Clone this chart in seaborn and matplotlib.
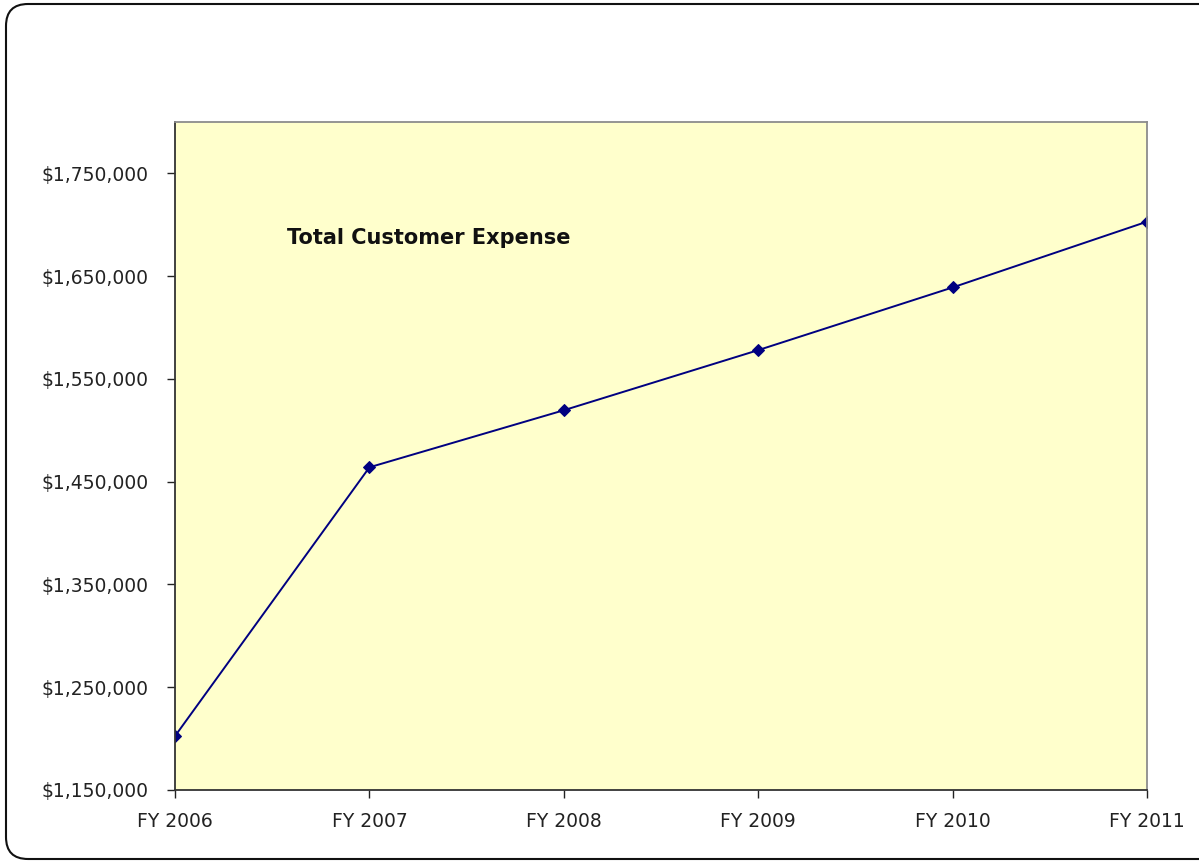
import seaborn as sns
import pandas as pd
import matplotlib.pyplot as plt
from matplotlib.patches import FancyBboxPatch
from matplotlib.transforms import IdentityTransform
from matplotlib.ticker import FuncFormatter

# chart data
years = ['FY 2006', 'FY 2007', 'FY 2008', 'FY 2009', 'FY 2010', 'FY 2011']
expense = [1202500, 1464000, 1519500, 1578000, 1639000, 1703000]
y_ticks = [1150000, 1250000, 1350000, 1450000, 1550000, 1650000, 1750000]

df = pd.DataFrame({'Year': years, 'Expense': expense})
df['Pos'] = range(len(years))

sns.set_style('white')
plt.rcParams['font.family'] = ['DejaVu Sans']

fig = plt.figure(figsize=(11.99, 8.61), dpi=100)
ax = fig.add_axes([0.146, 0.0825, 0.8106, 0.7758])
ax.set_facecolor('#FFFFCC')

sns.lineplot(x='Pos', y='Expense', data=df, color='#000080', linewidth=1.4,
             marker='D', markersize=6, markeredgecolor='#000080', ax=ax)

ax.set_xlim(0, len(years) - 1)
ax.set_ylim(1150000, 1800000)
ax.set_xticks(df['Pos'])
ax.set_xticklabels(years)
ax.set_yticks(y_ticks)
ax.yaxis.set_major_formatter(FuncFormatter(lambda v, p: f'${v:,.0f}'))
ax.tick_params(axis='both', labelsize=13.5, colors='#222222', length=6,
               width=1, direction='out', left=True, bottom=True)
ax.tick_params(axis='y', pad=13)
ax.tick_params(axis='x', pad=10)
ax.set_xlabel('')
ax.set_ylabel('')

for side in ['left', 'bottom']:
    ax.spines[side].set_color('#333333')
    ax.spines[side].set_linewidth(1.3)
for side in ['top', 'right']:
    ax.spines[side].set_color('#8C8C8C')
    ax.spines[side].set_linewidth(1.3)

ax.text(0.115, 0.817, 'Total Customer Expense', transform=ax.transAxes,
        fontsize=15, fontweight='bold', color='#111111')

# rounded chart border (right side runs off the canvas)
border = FancyBboxPatch((6, 2), 1240, 855, boxstyle='round,pad=0,rounding_size=22',
                        transform=IdentityTransform(), facecolor='none',
                        edgecolor='#111111', linewidth=1.5)
border.set_clip_on(False)
fig.patches.append(border)

plt.savefig('out.png', dpi=100)
